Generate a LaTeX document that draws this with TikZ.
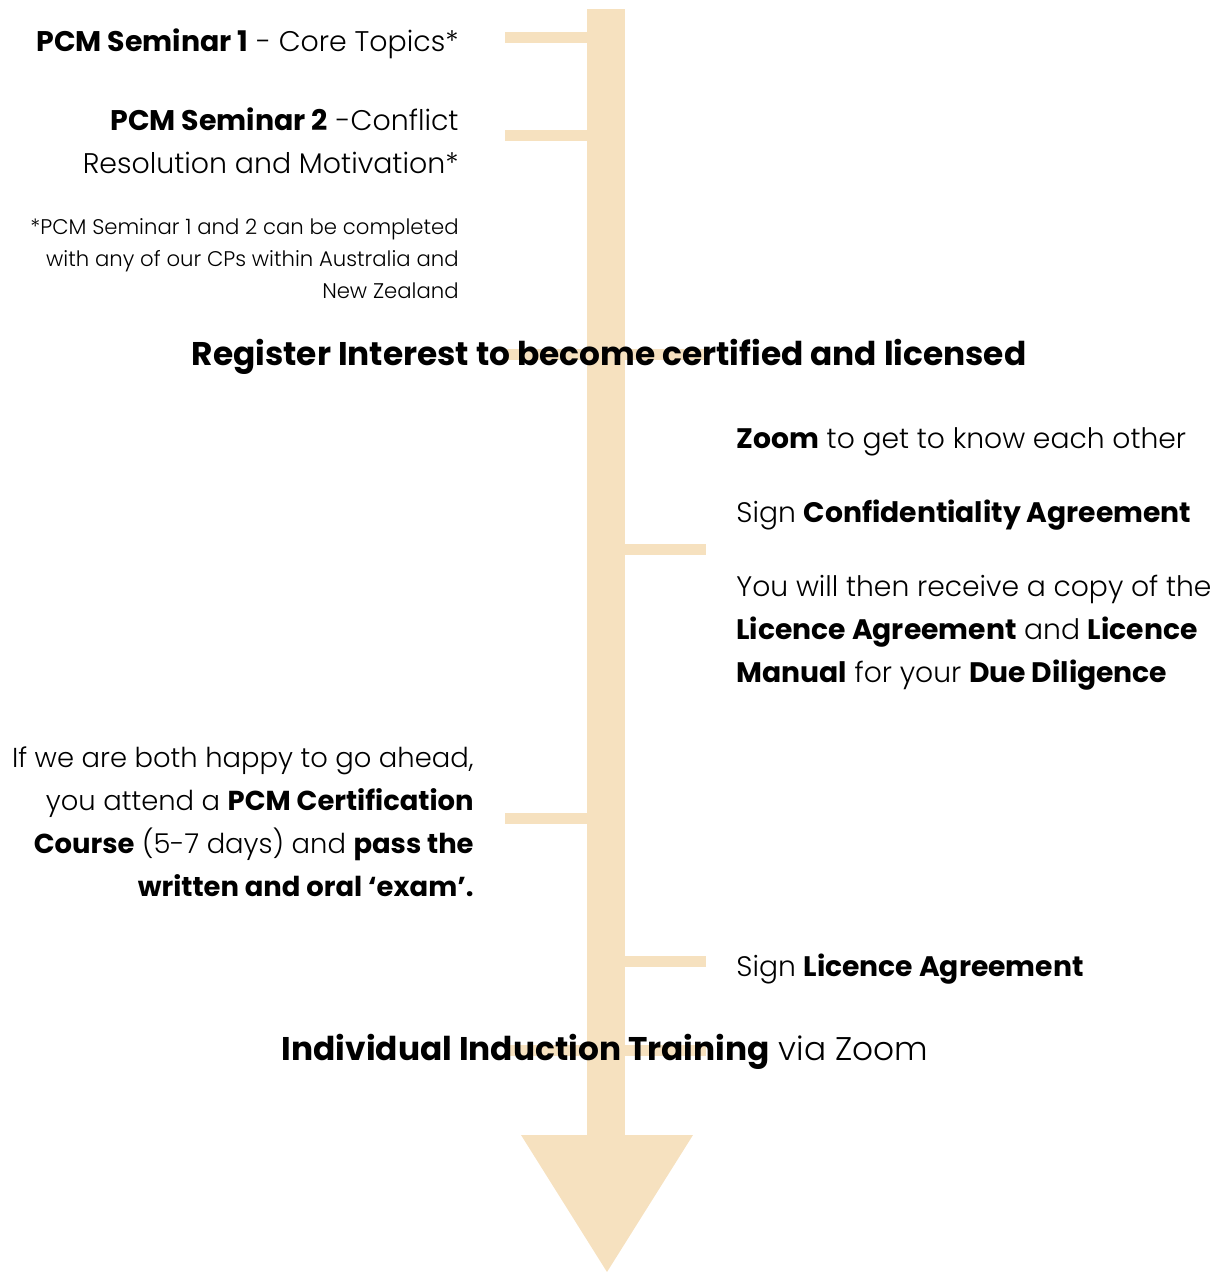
\documentclass[tikz,border=0pt]{standalone}
\usepackage{fontspec}
\setmainfont{Poppins}[UprightFont=* Light, BoldFont=* Bold]
\definecolor{timeline}{HTML}{F6E1BF}

\begin{document}
\begin{tikzpicture}[
    x=0.5pt, y=-0.5pt,
    band/.style={fill=timeline, draw=none},
    lefttext/.style={anchor=base east, align=right, inner sep=0pt, font=\fontsize{14.2}{21.5}\selectfont},
    righttext/.style={anchor=base west, align=left, inner sep=0pt, font=\fontsize{14.1}{21.5}\selectfont},
    note/.style={anchor=base east, align=right, inner sep=0pt, font=\fontsize{10.6}{16}\selectfont},
    heading/.style={anchor=base, inner sep=0pt, font=\fontsize{16.4}{19}\selectfont}
]
    \useasboundingbox (0,0) rectangle (1220,1272);

    % Timeline
    \fill[band] (587,9) rectangle (625,1136);
    \fill[band] (521,1135) -- (693,1135) -- (607,1272) -- cycle;

    % Ticks
    \fill[band] (505,32) rectangle (587,43);
    \fill[band] (505,130) rectangle (587,141);
    \fill[band] (505,349) rectangle (706,360);
    \fill[band] (625,544) rectangle (706,555);
    \fill[band] (505,813) rectangle (587,824);
    \fill[band] (625,956) rectangle (706,967);
    \fill[band] (505,1045) rectangle (706,1056);

    % Left side (base = last line)
    \node[lefttext] (sem1) at (459,52) {\textbf{PCM Seminar 1} - Core Topics*};
    \node[lefttext] (sem2) at (459,174) {\textbf{PCM Seminar 2} -Conflict\\Resolution and Motivation*};
    \node[note] (fnote) at (459,299) {*PCM Seminar 1 and 2 can be completed\\with any of our CPs within Australia and\\New Zealand};
    \node[lefttext, font=\fontsize{13.7}{21.5}\selectfont] (course) at (474,896) {If we are both happy to go ahead,\\you attend a \textbf{PCM Certification}\\\textbf{Course} (5-7 days) and \textbf{pass the}\\\textbf{written and oral ‘exam’.}};

    % Headings
    \node[heading] (register) at (609,366) {\textbf{Register Interest to become certified and licensed}};
    \node[heading] (induction) at (605,1060) {\textbf{Individual Induction Training} via Zoom};

    % Right side
    \node[righttext] (zoom) at (736,448) {\textbf{Zoom} to get to know each other};
    \node[righttext] (confid) at (736,522) {Sign \textbf{Confidentiality Agreement}};
    \node[righttext] (copy) at (736,682) {You will then receive a copy of the\\\textbf{Licence Agreement} and \textbf{Licence}\\\textbf{Manual} for your \textbf{Due Diligence}};
    \node[righttext] (licence) at (736,976) {Sign \textbf{Licence Agreement}};

\end{tikzpicture}
\end{document}
